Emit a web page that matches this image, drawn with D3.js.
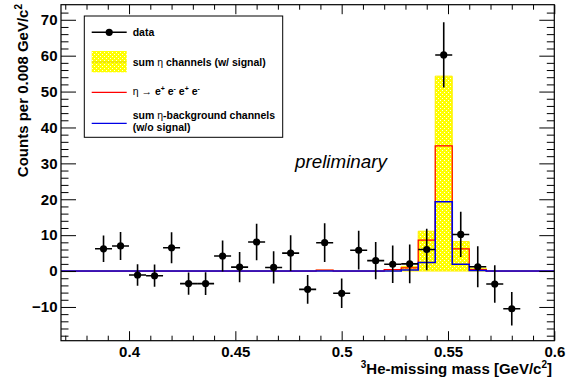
<!DOCTYPE html>
<html><head><meta charset="utf-8">
<script src="https://cdn.jsdelivr.net/npm/d3@7"></script>
<style>
html,body{margin:0;padding:0;background:#fff;}
svg text{font-family:"Liberation Sans",Arial,Helvetica,sans-serif;}
</style></head>
<body><svg id="c" width="574" height="381"></svg>
<script>
// ---- data ----
const dataX   = [0.388,0.396,0.404,0.412,0.420,0.428,0.436,0.444,0.452,0.460,0.468,0.476,0.484,0.492,0.500,0.508,0.516,0.524,0.532,0.540,0.548,0.556,0.564,0.572,0.580];
const dataY   = [6.2,7.0,-1.1,-1.3,6.5,-3.5,-3.5,4.2,1.1,8.1,1.0,5.0,-5.1,7.9,-6.2,5.8,2.9,1.9,2.0,6.0,60.2,10.2,1.2,-3.6,-10.5];
const dataErr = [3.7,3.9,3.0,3.1,4.3,3.1,3.2,4.3,4.2,5.1,4.5,5.0,4.0,5.4,4.1,5.4,5.2,5.2,5.4,5.8,9.1,6.3,5.7,5.2,4.7];
const binHalfWidth = 0.004;
// histogram bins (lower edges), last upper edge 0.600
const binLow = [0.368,0.376,0.384,0.392,0.400,0.408,0.416,0.424,0.432,0.440,0.448,0.456,0.464,0.472,0.480,0.488,0.496,0.504,0.512,0.520,0.528,0.536,0.544,0.552,0.560,0.568,0.576,0.584,0.592];
const binHigh = 0.600;
const sumEta  = [0,0,0,0,0,0,0,0,0,0,0,0,0,0,0,0.25,0,0,0,0.4,1.3,11.1,54.3,8.2,0.8,0,0,0,0];
const signal  = [0,0,0,0,0,0,0,0,0,0,0,0,0,0,0,0.25,0,0,0,0.4,0.9,8.6,34.9,6.2,0.4,0,0,0,0];
const bkg     = [0,0,0,0,0,0,0,0,0,0,0,0,0,0,0,0,0,0,0,0,0.3,2.4,19.3,1.9,0.15,0,0,0,0];
const xMajor = [0.4,0.45,0.5,0.55,0.6];
const yMajor = [-10,0,10,20,30,40,50,60,70];

// ---- layout ----
const svg = d3.select("#c");
const L=61, R=554.3, T=4.7, B=340.7;
const x = d3.scaleLinear().domain([0.368,0.6]).range([L,R]);
const y = d3.scaleLinear().domain([-19.4,74.2]).range([B,T]);

const defs = svg.append("defs");
const pat = defs.append("pattern").attr("id","yel").attr("patternUnits","userSpaceOnUse").attr("width",4).attr("height",4);
pat.append("rect").attr("width",4).attr("height",4).attr("fill","#ffff00");
pat.append("rect").attr("x",0).attr("y",0).attr("width",1).attr("height",1).attr("fill","#fffff0");
pat.append("rect").attr("x",2).attr("y",2).attr("width",1).attr("height",1).attr("fill","#fffff0");

const clip = defs.append("clipPath").attr("id","pl");
clip.append("rect").attr("x",L).attr("y",T).attr("width",R-L).attr("height",B-T);

const plot = svg.append("g").attr("clip-path","url(#pl)");

function pts(vals){ const p = binLow.map((b,i)=>[b,vals[i]]); p.push([binHigh,vals[vals.length-1]]); return p; }

const area = d3.area().x(d=>x(d[0])).y0(y(0)).y1(d=>y(d[1])).curve(d3.curveStepAfter);
const line = d3.line().x(d=>x(d[0])).y(d=>y(d[1])).curve(d3.curveStepAfter);

plot.append("path").attr("d",area(pts(sumEta))).attr("fill","url(#yel)").attr("stroke","#ffee00").attr("stroke-width",1);
plot.append("path").attr("d",line(pts(signal))).attr("fill","none").attr("stroke","#ff0000").attr("stroke-width",1.2);
plot.append("path").attr("d",line(pts(bkg))).attr("fill","none").attr("stroke","#0000e6").attr("stroke-width",1.6);

// data points
const dg = plot.append("g");
dataX.forEach((xv,i)=>{
  const yv=dataY[i], e=dataErr[i];
  dg.append("line").attr("x1",x(xv)).attr("x2",x(xv)).attr("y1",y(yv-e)).attr("y2",y(yv+e)).attr("stroke","#000").attr("stroke-width",1.6);
  dg.append("line").attr("x1",x(xv-binHalfWidth)).attr("x2",x(xv+binHalfWidth)).attr("y1",y(yv)).attr("y2",y(yv)).attr("stroke","#000").attr("stroke-width",1.6);
  dg.append("circle").attr("cx",x(xv)).attr("cy",y(yv)).attr("r",3.6).attr("fill","#000");
});

// ---- axes ----
const xMinor = d3.range(0.37,0.5951,0.01).filter(v=>!xMajor.some(m=>Math.abs(m-v)<1e-6));
const yMinor = d3.range(-18,72.01,2).filter(v=>v%10!==0);
function styleAxis(g){ g.select(".domain").remove(); g.selectAll("line").attr("stroke","#000").attr("stroke-width",1); }

svg.append("g").attr("transform",`translate(0,${B})`)
  .call(d3.axisBottom(x).tickValues(xMajor).tickSize(-9.5).tickPadding(6).tickFormat(d=>String(d)))
  .call(styleAxis).call(g=>g.selectAll("text").attr("font-size",15).attr("font-weight","bold").attr("fill","#000"));
svg.append("g").attr("transform",`translate(0,${B})`)
  .call(d3.axisBottom(x).tickValues(xMinor).tickSize(-5).tickFormat(""))
  .call(styleAxis);
svg.append("g").attr("transform",`translate(0,${T})`)
  .call(d3.axisTop(x).tickValues(xMajor).tickSize(-9.5).tickFormat(""))
  .call(styleAxis);
svg.append("g").attr("transform",`translate(0,${T})`)
  .call(d3.axisTop(x).tickValues(xMinor).tickSize(-5).tickFormat(""))
  .call(styleAxis);

svg.append("g").attr("transform",`translate(${L},0)`)
  .call(d3.axisLeft(y).tickValues(yMajor).tickSize(-15).tickPadding(3.5))
  .call(styleAxis).call(g=>g.selectAll("text").attr("font-size",15).attr("font-weight","bold").attr("fill","#000"));
svg.append("g").attr("transform",`translate(${L},0)`)
  .call(d3.axisLeft(y).tickValues(yMinor).tickSize(-7.5).tickFormat(""))
  .call(styleAxis);
svg.append("g").attr("transform",`translate(${R},0)`)
  .call(d3.axisRight(y).tickValues(yMajor).tickSize(-15).tickFormat(""))
  .call(styleAxis);
svg.append("g").attr("transform",`translate(${R},0)`)
  .call(d3.axisRight(y).tickValues(yMinor).tickSize(-7.5).tickFormat(""))
  .call(styleAxis);

// frame
svg.append("rect").attr("x",L).attr("y",T).attr("width",R-L).attr("height",B-T).attr("fill","none").attr("stroke","#000").attr("stroke-width",1.2);

// axis titles
const xt = svg.append("text").attr("x",552).attr("y",373.5).attr("text-anchor","end").attr("font-size",15).attr("font-weight","bold");
xt.append("tspan").attr("font-size",10).attr("dy",-6).text("3");
xt.append("tspan").attr("dy",6).text("He-missing mass [GeV/c");
xt.append("tspan").attr("font-size",10).attr("dy",-6).text("2");
xt.append("tspan").attr("dy",6).text("]");

const yt = svg.append("text").attr("transform","translate(28,4) rotate(-90)").attr("text-anchor","end").attr("font-size",15).attr("font-weight","bold");
yt.append("tspan").text("Counts per 0.008 GeV/c");
yt.append("tspan").attr("font-size",10).attr("dy",-6).text("2");

// preliminary
svg.append("text").attr("x",295).attr("y",168).attr("font-size",18.8).attr("font-style","italic").text("preliminary");

// ---- legend ----
const lg = svg.append("g");
lg.append("rect").attr("x",84.3).attr("y",16).attr("width",198.4).attr("height",121.3).attr("fill","#fff").attr("stroke","#000").attr("stroke-width",1);
const lx0=91.7, lx1=126.7, tx=132.7;
lg.append("line").attr("x1",lx0).attr("x2",lx1).attr("y1",32.3).attr("y2",32.3).attr("stroke","#000").attr("stroke-width",1.4);
lg.append("circle").attr("cx",109.2).attr("cy",32.3).attr("r",3.6).attr("fill","#000");
lg.append("rect").attr("x",lx0).attr("y",51).attr("width",lx1-lx0).attr("height",21.3).attr("fill","url(#yel)");
lg.append("line").attr("x1",lx0).attr("x2",lx1).attr("y1",62).attr("y2",62).attr("stroke","#e0d400").attr("stroke-width",1);
lg.append("line").attr("x1",lx0).attr("x2",lx1).attr("y1",92.3).attr("y2",92.3).attr("stroke","#ff0000").attr("stroke-width",1.3);
lg.append("line").attr("x1",lx0).attr("x2",lx1).attr("y1",123.3).attr("y2",123.3).attr("stroke","#0000e6").attr("stroke-width",1.3);

function ltext(yb){ return lg.append("text").attr("x",tx).attr("y",yb).attr("font-size",10.5).attr("font-weight","bold"); }
ltext(35.8).text("data");
const t2 = ltext(65.5);
t2.append("tspan").text("sum ");
t2.append("tspan").attr("font-weight","normal").text("η");
t2.append("tspan").text(" channels (w/ signal)");
const t3 = ltext(95);
t3.append("tspan").attr("font-weight","normal").text("η → ");
const charges = ["+","-","+","-"];
charges.forEach((s,i)=>{
  t3.append("tspan").attr("dy", i ? 4 : 0).text((i?" ":"")+"e");
  t3.append("tspan").attr("font-size",7).attr("dy",-4).text(s);
});
const t4 = ltext(119);
t4.append("tspan").text("sum ");
t4.append("tspan").attr("font-weight","normal").text("η");
t4.append("tspan").text("-background channels");
ltext(130.5).text("(w/o signal)");
</script></body></html>
